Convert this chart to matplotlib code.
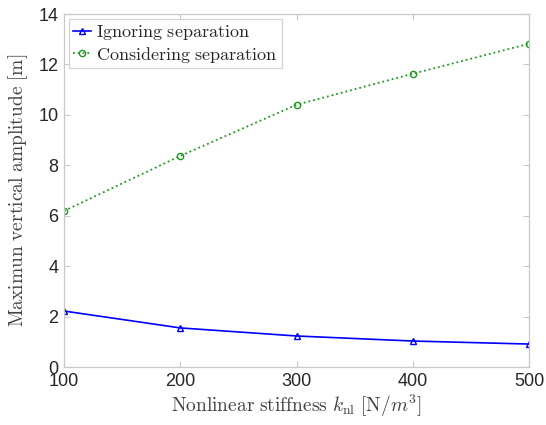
import numpy as np
import matplotlib as mpl
import matplotlib.pyplot as plt

mpl.rcParams['mathtext.fontset'] = 'cm'
mpl.rcParams['font.family'] = ['Liberation Sans', 'DejaVu Sans']

# stiffness values and peak amplitudes
k_nl = [100, 200, 300, 400, 500]
amp_ignoring = [2.22, 1.55, 1.23, 1.03, 0.91]
amp_considering = [6.19, 8.37, 10.40, 11.63, 12.82]

fig = plt.figure(figsize=(5.46, 4.25), dpi=100)
ax = fig.add_axes([64/546, 58/425, 465/546, 353/425])

ax.plot(k_nl, amp_ignoring, '-', color='#0000ff', lw=1.2, marker='^',
        ms=5, mfc='none', mew=1.0, label=r'$\mathrm{Ignoring\ separation}$')
ax.plot(k_nl, amp_considering, ':', color='#1a9a1a', lw=1.3, marker='o',
        ms=4.5, mfc='none', mew=1.0, label=r'$\mathrm{Considering\ separation}$')

ax.set_xlim(100, 500)
ax.set_ylim(0, 14)
ax.set_xticks(k_nl)
ax.set_yticks(np.arange(0, 15, 2))

for s in ax.spines.values():
    s.set_color('#c8c8c8')
    s.set_linewidth(0.9)
ax.tick_params(direction='in', length=4, color='#c8c8c8', labelsize=13,
               labelcolor='#262626', top=True, right=True, pad=4)

ax.set_xlabel(r'$\mathrm{Nonlinear\ stiffness}\ k_{\mathrm{nl}}\ [\mathrm{N}/m^3]$',
              fontsize=14, color='#404040', labelpad=2)
ax.set_ylabel(r'$\mathrm{Maximun\ vertical\ amplitude\ [m]}$',
              fontsize=14, color='#404040', labelpad=6)

leg = ax.legend(loc='upper left', fontsize=13, handlelength=1.0, handletextpad=0.3,
                borderpad=0.2, labelspacing=0.15, fancybox=False,
                borderaxespad=0.3)
leg.get_frame().set_edgecolor('#c8c8c8')
leg.get_frame().set_linewidth(0.9)
for t in leg.get_texts():
    t.set_color('#262626')

fig.savefig('out.png', dpi=100)
